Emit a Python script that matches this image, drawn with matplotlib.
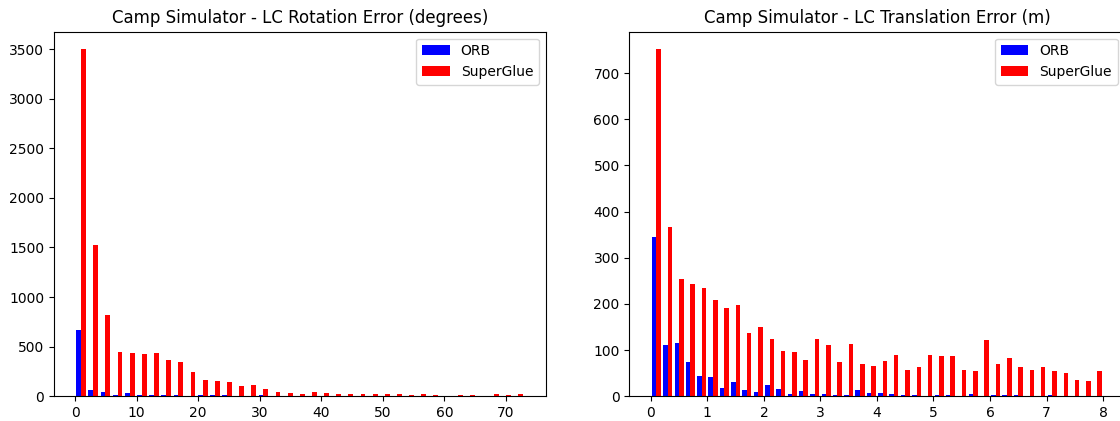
import numpy as np
import matplotlib
matplotlib.use('Agg')
import matplotlib.pyplot as plt

# Rotation error histogram counts (37 bins, 0 - 73 degrees)
rot_max = 73.0
rot_orb = [665, 63, 44, 10, 30, 10, 10, 10, 10, 0, 9, 9, 9, 0, 0, 13, 0, 0, 0,
           0, 0, 0, 0, 0, 0, 0, 0, 0, 0, 0, 0, 0, 0, 0, 0, 0, 0]
rot_sg = [3500, 1530, 818, 449, 439, 429, 439, 368, 342, 244, 161, 151, 141, 100, 111, 70, 44, 30, 24,
          44, 33, 20, 20, 20, 20, 24, 20, 10, 20, 10, 0, 10, 10, 0, 20, 10, 20]

# Translation error histogram counts (40 bins, 0 - 8 m)
trans_max = 8.0
trans_orb = [346, 111, 115, 74, 44, 41, 18, 32, 14, 9, 25, 15, 5, 11, 6, 5, 2, 3, 14, 7,
             7, 6, 2, 2, 0, 2, 2, 0, 6, 0, 2, 2, 2, 0, 0, 2, 0, 0, 0, 0]
trans_sg = [752, 367, 254, 243, 235, 209, 191, 198, 136, 150, 125, 99, 95, 79, 125, 112, 74, 114, 71, 65,
            76, 89, 56, 63, 89, 87, 87, 56, 54, 121, 69, 84, 63, 58, 63, 54, 50, 35, 33, 54]

labels = ['ORB', 'SuperGlue']
colors = ['blue', 'red']


def draw_hist(ax, orb, sg, upper, title):
    edges = np.linspace(0, upper, len(orb) + 1)
    centers = (edges[:-1] + edges[1:]) / 2
    ax.hist([centers, centers], bins=edges, weights=[orb, sg],
            color=colors, label=labels)
    ax.set_title(title)
    ax.legend(loc='upper right')


fig = plt.figure(figsize=(11.2, 4.21), dpi=100)
ax1 = fig.add_axes([0.0482, 0.0587, 0.439, 0.866])
ax2 = fig.add_axes([0.562, 0.0587, 0.442, 0.866])

draw_hist(ax1, rot_orb, rot_sg, rot_max, 'Camp Simulator - LC Rotation Error (degrees)')
draw_hist(ax2, trans_orb, trans_sg, trans_max, 'Camp Simulator - LC Translation Error (m)')

fig.savefig('out.png', dpi=100)
